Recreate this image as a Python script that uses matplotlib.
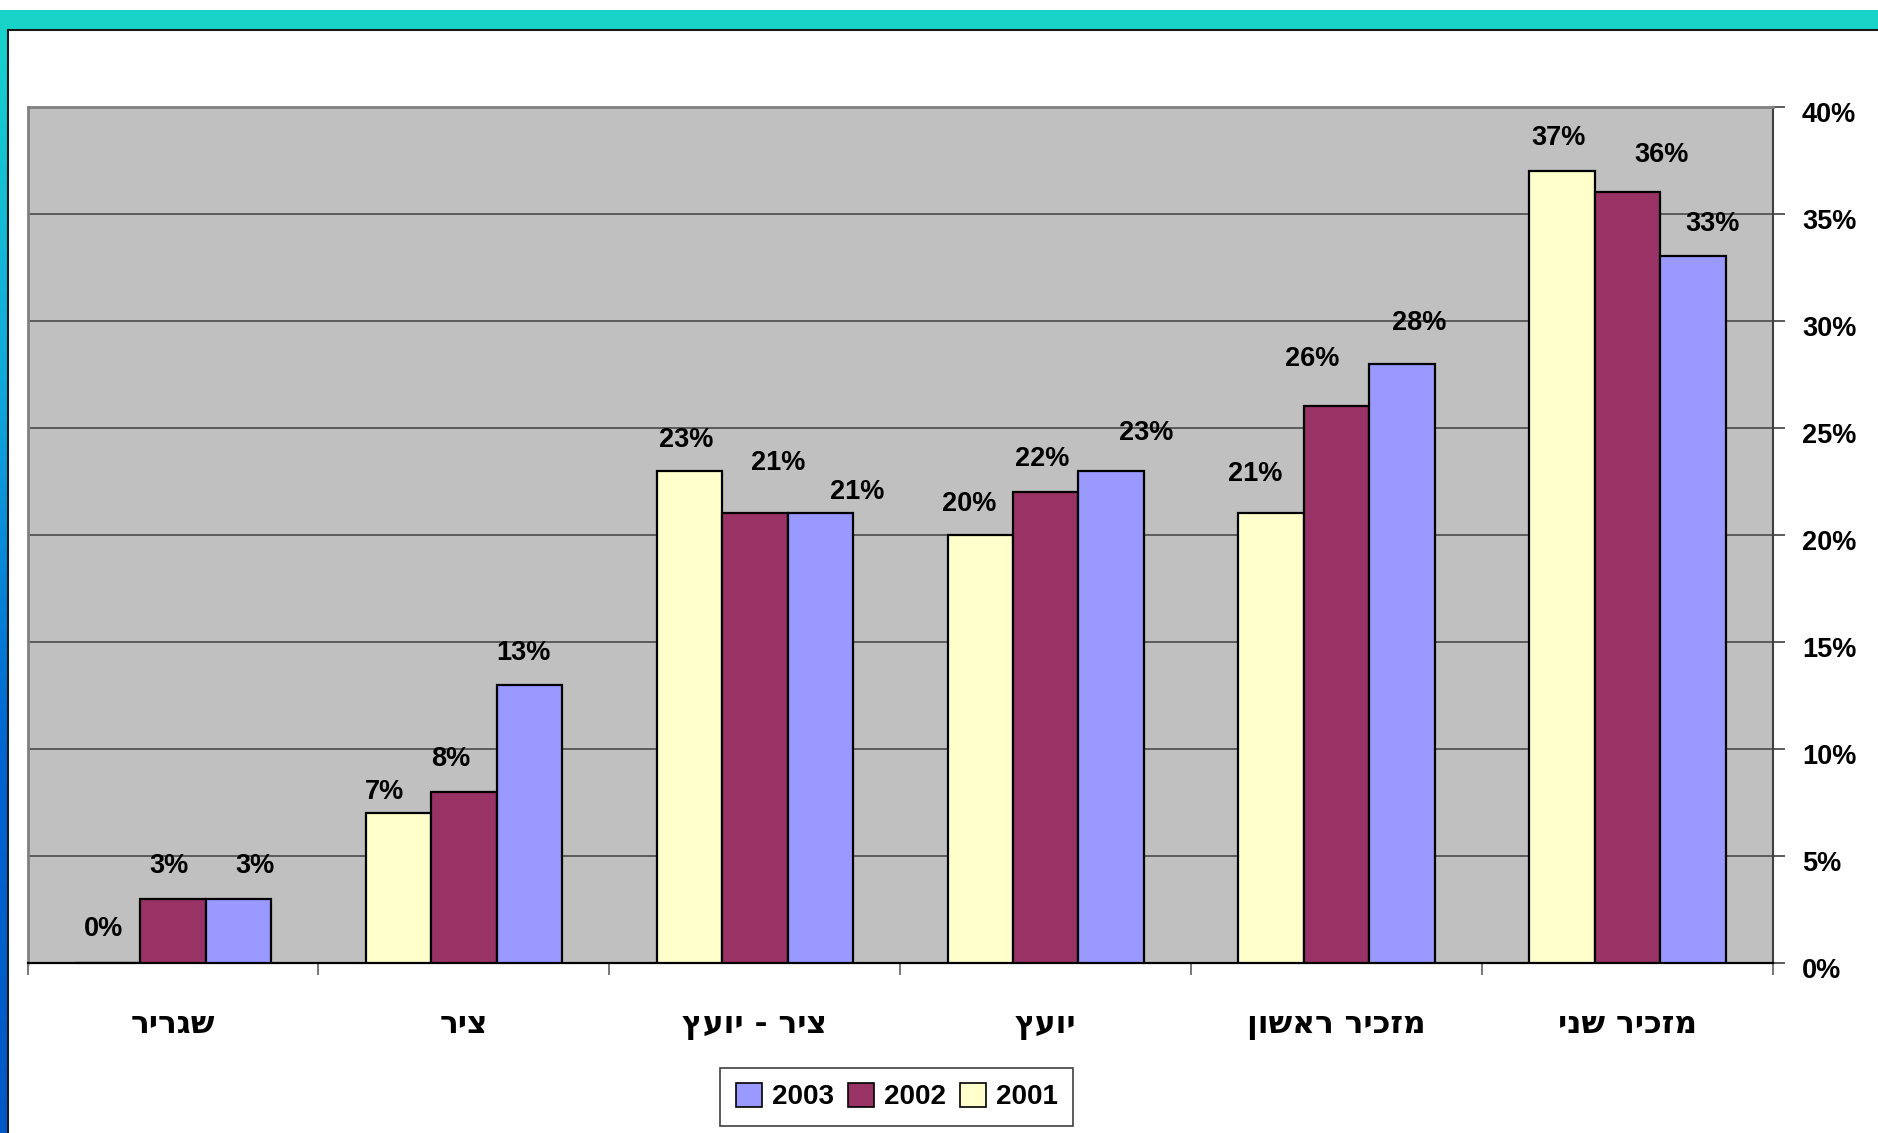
import numpy as np
import matplotlib
matplotlib.use("Agg")
import matplotlib.pyplot as plt
import matplotlib.transforms as mtransforms
from matplotlib.patches import Rectangle, Patch
from matplotlib.lines import Line2D
from matplotlib.colors import LinearSegmentedColormap

# data (categories left -> right, as in the picture)
categories = ["שגריר", "ציר", "ציר - יועץ", "יועץ", "מזכיר ראשון", "מזכיר שני"]
years = ["2001", "2002", "2003"]
v2001 = [0, 7, 23, 20, 21, 37]
v2002 = [3, 8, 21, 22, 26, 36]
v2003 = [3, 13, 21, 23, 28, 33]
yticks = [0, 5, 10, 15, 20, 25, 30, 35, 40]

colors = ["#FFFFCC", "#993366", "#9999FF"]

# hand nudges of the value labels (pixels, per category, per year)
lab_dx = [[-4, -4, 17], [-14, -13, -6], [-3, 23, 37],
          [-11, -4, 35], [-16, -24, 17], [-4, 34, 20]]
lab_dy = [[37, 36, 36], [24, 36, 35], [34, 53, 24],
          [34, 36, 41], [42, 50, 44], [36, 40, 35]]

num_font = ["Liberation Sans", "DejaVu Sans"]
heb_font = ["DejaVu Sans"]

def rtl(s):
    # matplotlib has no bidi, so flip hebrew for display
    return s[::-1]

W, H = 1878, 1133
px = 0.72  # pixel -> points at dpi 100
fig = plt.figure(figsize=(W / 100, H / 100), dpi=100)
fig.patch.set_facecolor("white")

# slide decoration: teal band on top, gradient strip at left
fig.patches.append(Rectangle((0, 1 - 30 / H), 1, 20 / H, transform=fig.transFigure,
                             facecolor="#18D4C8", edgecolor="none", zorder=0))
strip = fig.add_axes([0, 0, 7 / W, (H - 10) / H])
cmap = LinearSegmentedColormap.from_list("s", ["#18D4CC", "#10A8DC", "#0064D2", "#0058C8"])
strip.imshow(np.linspace(0, 1, 256).reshape(-1, 1), aspect="auto", cmap=cmap)
strip.axis("off")
fig.lines.append(Line2D([8 / W, 1], [1 - 30 / H] * 2, transform=fig.transFigure,
                        color="#1a1a1a", lw=1.5))
fig.lines.append(Line2D([8 / W] * 2, [0, 1 - 30 / H], transform=fig.transFigure,
                        color="#1a1a1a", lw=1.5))

left, right, top, bottom = 27.5, 1773, 106.6, 963
ax = fig.add_axes([left / W, 1 - bottom / H, (right - left) / W, (bottom - top) / H])
ax.set_facecolor("#C0C0C0")

x = np.arange(len(categories))
w = 0.225
series = [v2001, v2002, v2003]
for i, (vals, c) in enumerate(zip(series, colors)):
    xs = x + (i - 1) * w
    ax.bar(xs, vals, width=w, color=c, edgecolor="black", linewidth=1.6, zorder=3)
    for j, v in enumerate(vals):
        ax.annotate(f"{v}%", xy=(xs[j], v),
                    xytext=(lab_dx[j][i] * px, (lab_dy[j][i] - 10) * px),
                    textcoords="offset points", ha="center", va="baseline",
                    fontsize=19.5, fontweight="bold", family=num_font, zorder=5)

ax.set_xlim(-0.5, len(categories) - 0.5)
ax.set_ylim(0, 40)
ax.yaxis.tick_right()
ax.set_yticks(yticks)
ax.set_yticklabels([f"{t}%" for t in yticks], fontsize=19.5, fontweight="bold", family=num_font)
ax.tick_params(axis="y", length=12 * px, width=1.2, color="#404040", pad=17 * px)
shift = mtransforms.ScaledTranslation(0, -5 / 100, fig.dpi_scale_trans)
for lab in ax.get_yticklabels():
    lab.set_transform(lab.get_transform() + shift)

ax.set_xticks(np.arange(-0.5, len(categories)))
ax.set_xticklabels([])
ax.tick_params(axis="x", length=12 * px, width=1.2, color="#606060")
for j, cat in enumerate(categories):
    ax.annotate(rtl(cat), xy=(j, 0), xycoords=("data", "axes fraction"),
                xytext=(0, -70 * px), textcoords="offset points",
                ha="center", va="baseline", fontsize=22.5, fontweight="bold", family=heb_font)

ax.yaxis.grid(True, color="#404040", linewidth=1.1)
ax.set_axisbelow(True)
for s in ["top", "left"]:
    ax.spines[s].set_color("#808080")
    ax.spines[s].set_linewidth(2)
ax.spines["right"].set_color("#404040")
ax.spines["right"].set_linewidth(1.5)
ax.spines["bottom"].set_color("black")
ax.spines["bottom"].set_linewidth(1.6)

handles = [Patch(facecolor=colors[i], edgecolor="black", linewidth=1.2) for i in (2, 1, 0)]
leg = fig.legend(handles, [years[i] for i in (2, 1, 0)], loc="center",
                 bbox_to_anchor=(896.5 / W, 1 - 1096.5 / H), ncol=3,
                 prop={"family": num_font, "weight": "bold", "size": 20},
                 handlelength=0.94, handleheight=0.94, handletextpad=0.36,
                 columnspacing=0.5, borderpad=0.55, fancybox=False,
                 edgecolor="#404040", framealpha=1)
leg.get_frame().set_linewidth(1.2)

fig.savefig("out.png", dpi=100)
